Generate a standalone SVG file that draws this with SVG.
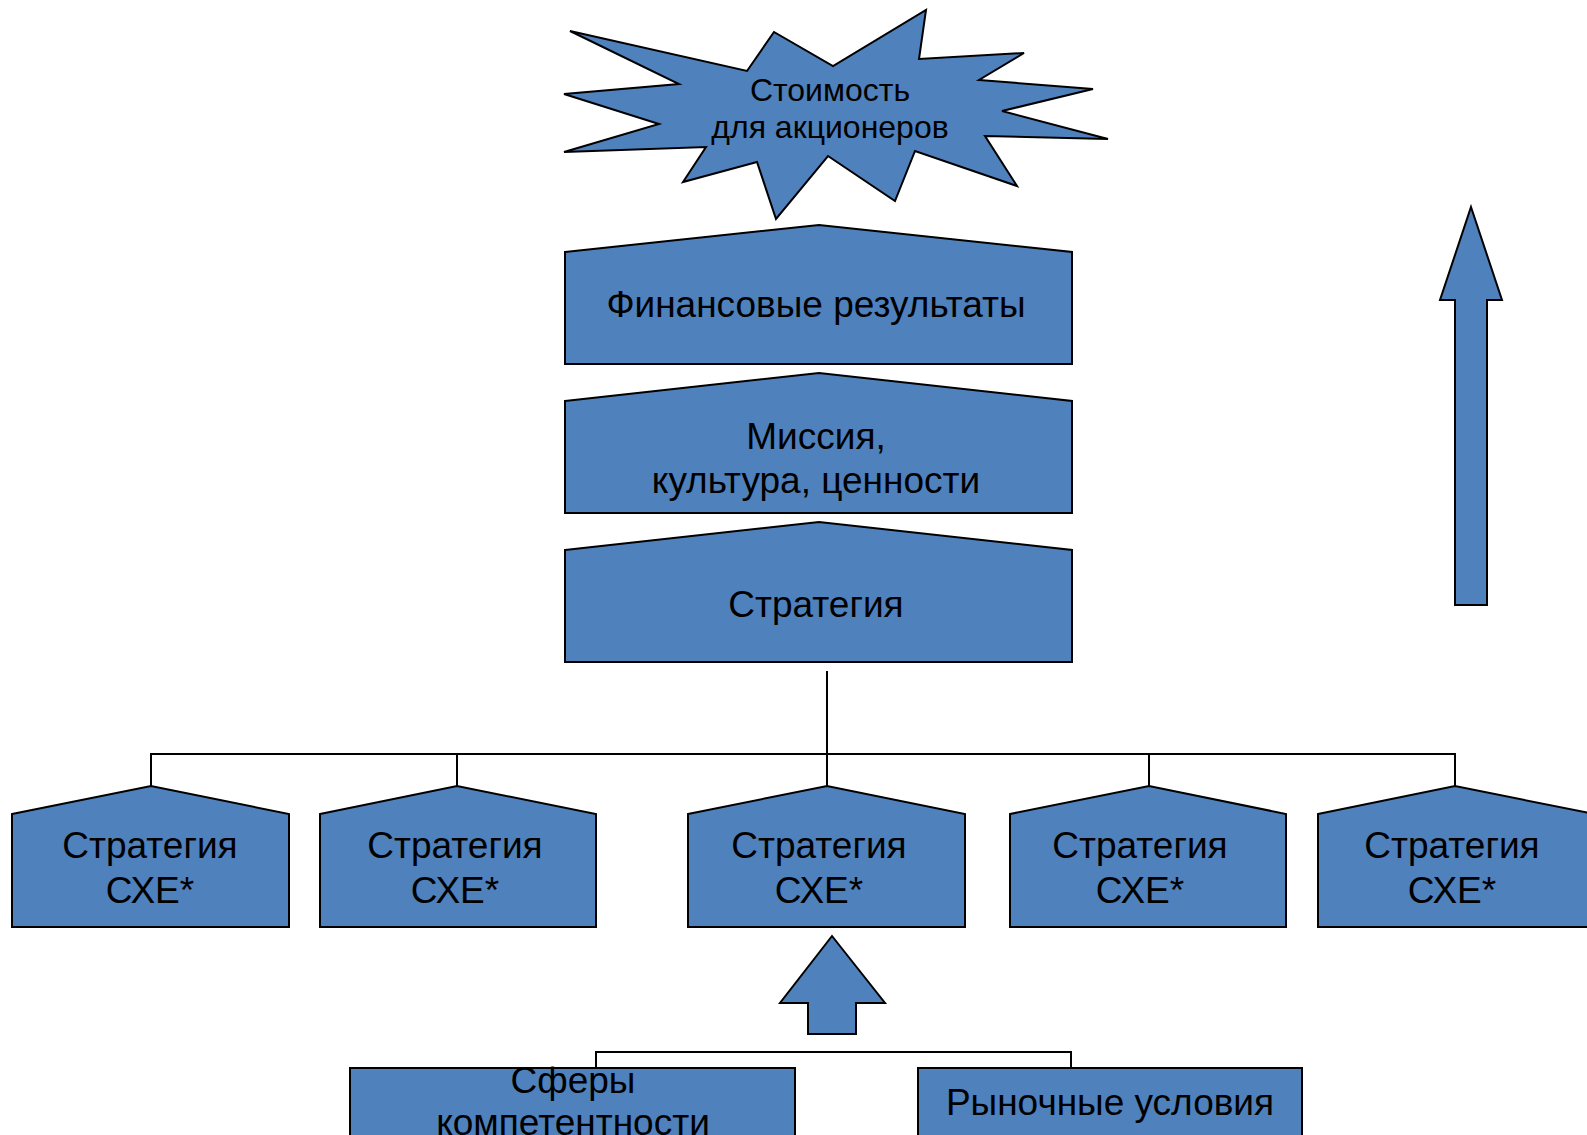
<svg xmlns="http://www.w3.org/2000/svg" width="1587" height="1135" viewBox="0 0 1587 1135">
<style>
.s{fill:#4F81BD;stroke:#000;stroke-width:2;stroke-linejoin:miter}
.t{font-family:"Liberation Sans",Arial,sans-serif;font-size:37px;fill:#000;text-anchor:middle}
.st{font-size:32px}
.c{fill:none;stroke:#000;stroke-width:2}
</style>
<rect width="1587" height="1135" fill="#fff"/>
<g id="connectors">
<path class="c" d="M827 671 V786"/>
<path class="c" d="M151 786 V754 H1455 V786"/>
<path class="c" d="M457 754 V786"/>
<path class="c" d="M1149 754 V786"/>
<path class="c" d="M596 1068 V1052 H1071 V1068"/>
</g>
<g id="star">
<polygon class="s" points="570,31 747,71 774,32 833,66 926,10 919,59 1024,53 979,80 1093,89 1002,111 1108,139 985,136 1017,186 915,151 895,201 828,156 776,219 757,162 683,182 706,147 564,152 659,124 564,94 679,84"/>
<text class="t st" x="830" y="101">Стоимость</text>
<text class="t st" x="830" y="138">для акционеров</text>
</g>
<g id="fin">
<polygon class="s" points="565,252 819,225 1072,252 1072,364 565,364"/>
<text class="t" x="816" y="317">Финансовые результаты</text>
</g>
<g id="mission">
<polygon class="s" points="565,401 819,373 1072,401 1072,513 565,513"/>
<text class="t" x="816" y="449">Миссия,</text>
<text class="t" x="816" y="493">культура, ценности</text>
</g>
<g id="strategy">
<polygon class="s" points="565,550 819,522 1072,550 1072,662 565,662"/>
<text class="t" x="816" y="617">Стратегия</text>
</g>
<g id="sbu1">
<polygon class="s" points="12,814 151,786 289,814 289,927 12,927"/>
<text class="t" x="150" y="858">Стратегия</text>
<text class="t" x="150" y="903">СХЕ*</text>
</g>
<g id="sbu2">
<polygon class="s" points="320,814 457,786 596,814 596,927 320,927"/>
<text class="t" x="455" y="858">Стратегия</text>
<text class="t" x="455" y="903">СХЕ*</text>
</g>
<g id="sbu3">
<polygon class="s" points="688,814 827,786 965,814 965,927 688,927"/>
<text class="t" x="819" y="858">Стратегия</text>
<text class="t" x="819" y="903">СХЕ*</text>
</g>
<g id="sbu4">
<polygon class="s" points="1010,814 1149,786 1286,814 1286,927 1010,927"/>
<text class="t" x="1140" y="858">Стратегия</text>
<text class="t" x="1140" y="903">СХЕ*</text>
</g>
<g id="sbu5">
<polygon class="s" points="1318,814 1455,786 1594,814 1594,927 1318,927"/>
<text class="t" x="1452" y="858">Стратегия</text>
<text class="t" x="1452" y="903">СХЕ*</text>
</g>
<g id="arrow-small">
<polygon class="s" points="832,936 885,1003 856,1003 856,1034 808,1034 808,1003 780,1003"/>
</g>
<g id="arrow-big">
<polygon class="s" points="1471,207 1502,300 1487,300 1487,605 1455,605 1455,300 1440,300"/>
</g>
<g id="competence">
<rect class="s" x="350" y="1068" width="445" height="100"/>
<text class="t" x="573" y="1093">Сферы</text>
<text class="t" x="573" y="1135">компетентности</text>
</g>
<g id="market">
<rect class="s" x="918" y="1068" width="384" height="100"/>
<text class="t" x="1110" y="1115">Рыночные условия</text>
</g>
</svg>
